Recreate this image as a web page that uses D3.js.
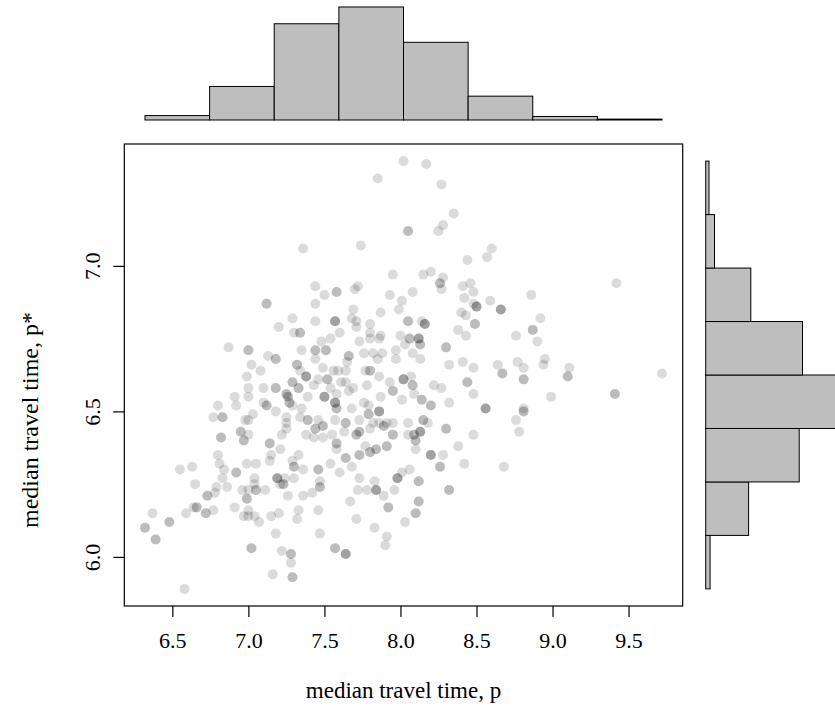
<!DOCTYPE html>
<html><head><meta charset="utf-8">
<script src="https://cdn.jsdelivr.net/npm/d3@7"></script>
<style>
body{margin:0;background:#fff}
svg{display:block}
text{font-family:"Liberation Serif","Times New Roman",serif;fill:#000}
</style>
</head><body>
<svg id="c" width="835" height="721"></svg>
<script>
// ---------------- data ----------------
const xTicks = [6.5, 7.0, 7.5, 8.0, 8.5, 9.0, 9.5];
const yTicks = [6.0, 6.5, 7.0];
const xBreaks = [6.0, 6.5, 7.0, 7.5, 8.0, 8.5, 9.0, 9.5, 10.0];
const xCounts = [5, 38, 109, 128, 88, 27, 4, 1];
const yBreaks = [5.8, 6.0, 6.2, 6.4, 6.6, 6.8, 7.0, 7.2, 7.4];
const yCounts = [4, 39, 85, 132, 88, 41, 8, 3];
const xTitle = "median travel time, p";
const yTitle = "median travel time, p*";
// [p, p*, number of coincident observations]
const points = [
[8.02,7.36,1],[7.85,7.30,1],[8.05,7.12,2],[7.36,7.06,1],[7.74,7.07,1],[7.95,6.97,1],[7.44,6.93,1],[7.70,6.92,1],[7.72,6.93,1],[7.58,6.91,2],
[7.50,6.90,1],[7.93,6.90,1],[8.08,6.91,1],[7.12,6.87,2],[7.44,6.87,1],[8.01,6.88,1],[7.69,6.85,1],[7.99,6.85,1],[7.29,6.82,1],[7.44,6.81,1],
[7.57,6.81,3],[7.68,6.82,1],[7.71,6.81,1],[7.87,6.84,1],[8.05,6.81,2],[7.20,6.79,1],[7.30,6.77,1],[7.34,6.77,2],[7.60,6.77,1],[7.71,6.79,1],
[7.80,6.80,1],[7.80,6.77,1],[7.87,6.76,1],[8.00,6.76,1],[8.06,6.75,2],[7.48,6.74,1],[7.54,6.75,1],[7.73,6.74,1],[7.80,6.75,1],[7.86,6.75,1],
[8.03,6.73,1],[6.87,6.72,1],[7.00,6.71,2],[7.35,6.71,1],[7.44,6.71,2],[7.51,6.71,2],[7.44,6.68,1],[7.66,6.69,2],[7.76,6.70,1],[7.82,6.70,1],
[7.88,6.70,1],[7.97,6.71,1],[8.08,6.70,1],[7.13,6.69,1],[7.18,6.68,2],[7.65,6.67,1],[7.85,6.68,1],[7.97,6.68,1],[7.02,6.66,1],[7.08,6.64,1],
[7.32,6.66,2],[7.34,6.64,1],[7.38,6.62,3],[7.49,6.65,1],[7.56,6.64,1],[7.59,6.64,1],[7.64,6.64,1],[7.77,6.64,1],[7.80,6.64,2],[6.99,6.62,1],
[8.17,7.35,1],[8.27,7.28,1],[8.35,7.18,1],[8.25,7.12,1],[8.28,7.14,1],[8.60,7.06,1],[8.57,7.03,1],[8.44,7.02,1],[8.15,6.97,1],[8.20,6.98,1],
[8.28,6.96,1],[8.26,6.94,2],[8.27,6.92,1],[9.42,6.94,1],[8.41,6.93,1],[8.46,6.94,1],[8.42,6.89,1],[8.48,6.91,1],[8.86,6.90,1],[8.50,6.86,3],
[8.48,6.87,1],[8.59,6.88,1],[8.66,6.85,3],[8.40,6.84,1],[8.43,6.83,1],[8.49,6.80,2],[8.92,6.82,1],[8.14,6.81,1],[8.16,6.80,3],[8.38,6.78,1],
[8.43,6.76,1],[8.76,6.76,1],[8.87,6.78,2],[8.90,6.74,1],[8.12,6.75,3],[8.13,6.73,2],[8.30,6.72,2],[8.13,6.68,1],[8.32,6.66,1],[8.41,6.67,1],
[8.48,6.65,1],[8.64,6.66,1],[8.77,6.67,1],[8.81,6.65,1],[8.67,6.63,2],[8.95,6.68,1],[8.94,6.66,1],[9.11,6.65,1],[9.10,6.62,2],[9.72,6.63,1],
[8.07,6.62,1],
[8.14,6.54,2],[8.20,6.52,2],[8.22,6.59,1],[8.27,6.58,1],[8.32,6.53,1],[8.44,6.60,2],[8.48,6.56,1],[8.56,6.51,3],[8.81,6.61,2],[8.81,6.51,1],
[8.81,6.50,2],[8.76,6.47,1],[8.78,6.43,1],[8.99,6.55,1],[9.41,6.56,2],[8.05,6.46,1],[8.15,6.47,2],[8.18,6.46,1],[8.13,6.43,3],[8.09,6.42,2],
[8.05,6.42,1],[8.10,6.40,2],[8.10,6.37,1],[8.30,6.44,2],[8.48,6.42,1],[8.38,6.38,1],[8.20,6.35,3],[8.28,6.35,1],[8.26,6.31,2],[8.42,6.32,1],
[8.68,6.31,1],[8.32,6.23,2],
[7.29,6.60,2],[7.33,6.58,2],[7.18,6.58,2],[7.25,6.56,2],[7.26,6.55,2],[7.10,6.58,1],[7.00,6.58,1],[7.00,6.55,1],[6.91,6.55,1],[6.92,6.52,1],
[6.80,6.52,1],[7.10,6.53,1],[7.12,6.52,2],[7.18,6.50,1],[7.27,6.53,2],[7.29,6.52,1],[7.35,6.51,1],[7.39,6.55,1],[7.43,6.59,1],[7.46,6.61,1],
[7.52,6.61,2],[7.50,6.55,3],[7.57,6.53,3],[7.58,6.51,2],[7.54,6.58,1],[7.61,6.60,1],[7.64,6.60,1],[7.66,6.57,1],[7.58,6.56,1],[7.69,6.58,1],
[7.78,6.59,1],[7.86,6.62,1],[7.93,6.60,1],[7.95,6.57,2],[8.02,6.61,3],[8.08,6.59,2],[8.09,6.56,1],[8.01,6.54,1],[7.87,6.55,1],[7.76,6.53,1],
[7.68,6.51,1],[7.79,6.49,2],[7.86,6.50,3],[7.79,6.52,1],[7.89,6.45,2],[7.95,6.42,2],[7.91,6.46,1],[7.95,6.46,1],
[6.77,6.48,1],[6.83,6.48,2],[7.03,6.49,1],[6.98,6.47,1],[7.00,6.47,1],[7.25,6.48,1],[7.25,6.46,1],[7.34,6.48,1],[7.39,6.47,2],[7.46,6.47,1],
[7.44,6.44,2],[7.49,6.45,2],[7.38,6.42,1],[7.25,6.44,1],[7.22,6.42,1],[7.43,6.41,1],[7.49,6.41,1],[7.55,6.42,1],[7.57,6.47,1],[7.64,6.46,2],
[7.63,6.43,1],[7.71,6.42,2],[7.73,6.43,2],[7.73,6.47,1],[7.80,6.44,1],[7.82,6.46,1],[7.86,6.46,1],[7.58,6.39,2],[7.58,6.37,1],[7.64,6.34,2],
[7.73,6.35,2],[7.80,6.36,2],[7.84,6.37,2],[7.77,6.38,1],[7.91,6.38,2],[7.68,6.31,1],[7.54,6.32,1],[7.60,6.29,1],
[6.82,6.41,2],[6.95,6.43,2],[6.97,6.40,2],[7.00,6.42,1],[7.14,6.39,2],[7.21,6.37,1],[6.80,6.35,1],[6.81,6.32,1],[6.84,6.30,1],[6.83,6.27,1],
[6.92,6.29,2],[6.99,6.32,1],[7.05,6.32,1],[7.04,6.27,1],[7.04,6.25,1],[7.05,6.23,2],[7.11,6.23,1],[6.99,6.20,2],[6.96,6.23,1],[7.00,6.23,1],
[7.15,6.35,1],[7.14,6.33,1],[7.19,6.27,3],[7.24,6.27,1],[7.23,6.25,2],[7.21,6.25,1],[7.30,6.31,2],[7.29,6.33,1],[7.33,6.35,1],[7.36,6.30,1],
[7.30,6.27,1],[7.26,6.21,1],[7.36,6.21,1],[7.42,6.22,1],[7.46,6.30,2],[7.47,6.26,1],[7.47,6.24,2],
[6.55,6.30,1],[6.63,6.31,1],[6.65,6.25,1],[6.73,6.21,2],[6.79,6.24,1],[6.86,6.24,1],[6.78,6.22,1],[6.64,6.17,1],[6.66,6.17,2],[6.59,6.15,1],
[6.72,6.15,2],[6.77,6.16,1],[6.37,6.15,1],[6.32,6.10,2],[6.48,6.12,2],[6.39,6.06,2],[6.91,6.17,1],[6.97,6.14,1],[7.00,6.16,1],[7.00,6.14,1],
[7.04,6.14,1],[7.07,6.12,1],[7.15,6.14,1],[7.20,6.15,1],[7.33,6.16,1],[7.32,6.13,1],[7.46,6.16,1],[7.18,6.08,1],[7.47,6.08,1],[7.02,6.03,2],
[7.22,6.02,1],[7.28,6.01,2],[7.28,5.98,1],[7.16,5.94,1],[7.29,5.93,2],[6.58,5.89,1],[7.57,6.03,2],[7.64,6.01,3],
[7.67,6.19,1],[7.71,6.13,1],[7.73,6.27,1],[7.72,6.23,1],[7.78,6.23,1],[7.83,6.26,1],[7.84,6.23,3],[7.89,6.21,1],[7.92,6.17,2],[7.96,6.23,1],
[7.98,6.27,3],[8.01,6.29,1],[8.06,6.30,1],[8.12,6.26,2],[8.12,6.19,2],[8.10,6.15,2],[8.03,6.12,1],[7.83,6.10,1],[7.91,6.07,1],[7.90,6.04,1]
];

// ---------------- chart ----------------
(function () {
const svg = d3.select("#c");
svg.append("rect").attr("width", 835).attr("height", 721).attr("fill", "#fff");

const box = {l: 124.3, r: 682.7, t: 144, b: 606};
const pad = e => { const d = (e[1] - e[0]) * 0.04; return [e[0] - d, e[1] + d]; };

const x = d3.scaleLinear().domain(pad(d3.extent(points, d => d[0]))).range([box.l, box.r]);
const y = d3.scaleLinear().domain(pad(d3.extent(points, d => d[1]))).range([box.b, box.t]);

// points (coincident observations stacked -> darker)
const flat = points.flatMap(p => d3.range(p[2]).map(() => p));
svg.append("g").selectAll("circle").data(flat).join("circle")
  .attr("cx", d => x(d[0])).attr("cy", d => y(d[1])).attr("r", 5)
  .attr("fill", "#000").attr("fill-opacity", 0.14);

// box
svg.append("rect").attr("x", box.l).attr("y", box.t)
  .attr("width", box.r - box.l).attr("height", box.b - box.t)
  .attr("fill", "none").attr("stroke", "#000").attr("stroke-width", 1.2);

// x axis
const gx = svg.append("g").attr("transform", `translate(0,${box.b})`)
  .call(d3.axisBottom(x).tickValues(xTicks).tickSize(11).tickPadding(15).tickFormat(d3.format(".1f")));
gx.select(".domain").remove();
gx.selectAll("line").attr("stroke", "#000").attr("stroke-width", 1.2);
gx.selectAll("text").style("font-size", "22px").attr("font-family", null);

// y axis
const gy = svg.append("g").attr("transform", `translate(${box.l},0)`)
  .call(d3.axisLeft(y).tickValues(yTicks).tickSize(11).tickFormat(d3.format(".1f")));
gy.select(".domain").remove();
gy.selectAll("line").attr("stroke", "#000").attr("stroke-width", 1.2);
gy.selectAll("text").style("font-size", "22px").attr("font-family", null)
  .attr("x", null).attr("dy", null).attr("text-anchor", "middle")
  .attr("transform", "translate(-24.3,0) rotate(-90)");

// titles
svg.append("text").attr("x", (box.l + box.r) / 2).attr("y", 698)
  .attr("text-anchor", "middle").style("font-size", "23px").text(xTitle);
svg.append("text").attr("transform", "translate(38,420) rotate(-90)")
  .attr("text-anchor", "middle").style("font-size", "24px").text(yTitle);

// marginal histograms (bar-plot style, shared count limit)
const maxCount = d3.max([...xCounts, ...yCounts]);
const nb = xCounts.length;
const bx = d3.scaleLinear().domain([-0.04 * nb, nb * 1.04]).range([box.l, box.r]);
const hy = d3.scaleLinear().domain([0, maxCount]).range([120, 120 - maxCount * 0.883]);
svg.append("g").selectAll("rect").data(xCounts).join("rect")
  .attr("x", (d, i) => bx(i)).attr("width", bx(1) - bx(0))
  .attr("y", d => hy(d)).attr("height", d => hy(0) - hy(d))
  .attr("fill", "#bebebe").attr("stroke", "#000").attr("stroke-width", 1);

const mb = yCounts.length;
const by = d3.scaleLinear().domain([-0.04 * mb, mb * 1.04]).range([box.b, box.t]);
const hx = d3.scaleLinear().domain([0, maxCount]).range([705.7, 705.7 + maxCount * 1.1]);
svg.append("g").selectAll("rect").data(yCounts).join("rect")
  .attr("y", (d, i) => by(i + 1)).attr("height", by(0) - by(1))
  .attr("x", hx(0)).attr("width", d => hx(d) - hx(0))
  .attr("fill", "#bebebe").attr("stroke", "#000").attr("stroke-width", 1);
})();
</script>
</body></html>
